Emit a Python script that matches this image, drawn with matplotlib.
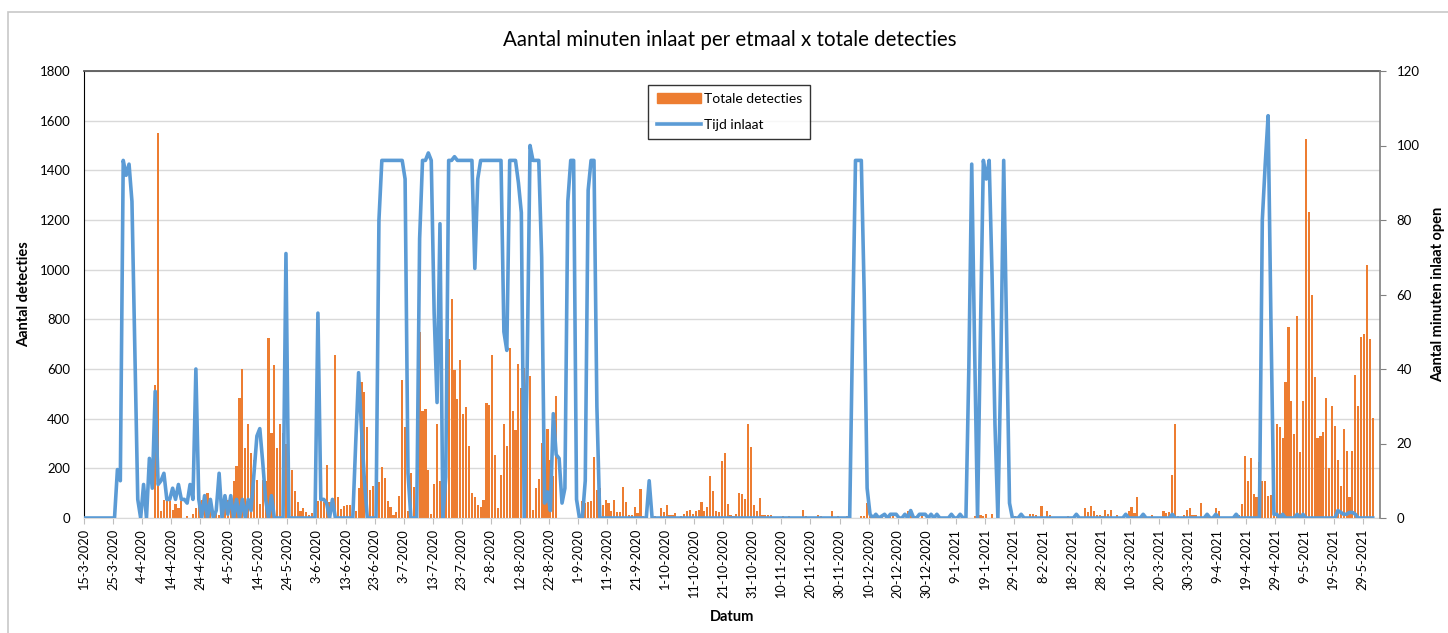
import numpy as np
import pandas as pd
import matplotlib
matplotlib.use("Agg")
import matplotlib.pyplot as plt
from matplotlib.patches import Patch, Rectangle
from matplotlib.lines import Line2D

plt.rcParams['font.family'] = ['Lato', 'DejaVu Sans']

# dagelijkse waarden, vanaf 15-3-2020
start = pd.Timestamp("2020-03-15")

# Totale detecties per dag
det_mrt_mei_2020 = ([0] * 24 +
    [537, 1551, 27, 71, 67, 67, 34, 58, 40, 67,
     0, 9, 0, 17, 40, 67, 74, 60, 100, 40,
     0, 20, 13, 60, 74, 74, 74, 148, 208, 483,
     600, 282, 379, 262, 235, 154, 56, 152, 150, 725,
     342, 618, 282, 379, 342, 300, 0, 193, 110, 63,
     30, 40, 23, 13])
det_jun_aug_2020 = [19, 0, 70, 70, 63, 215, 63, 0, 657, 83,
     36, 50, 52, 52, 0, 27, 120, 547, 509, 365,
     113, 130, 120, 144, 204, 161, 70, 43, 13, 23,
     90, 556, 368, 30, 181, 126, 0, 750, 432, 439,
     193, 16, 137, 379, 150, 0, 520, 721, 882, 596,
     479, 637, 419, 448, 291, 100, 83, 54, 43, 73,
     465, 455, 657, 254, 40, 175, 379, 291, 684, 430,
     353, 620, 524, 604, 786, 571, 34, 121, 157, 302,
     60, 359, 235, 168, 493] + [0] * 7
det_sep_nov_2020 = [0, 67, 60, 63, 67, 244, 114, 120, 54, 74,
     60, 27, 71, 23, 23, 125, 63, 13, 13, 44,
     20, 117, 9, 0, 0, 0, 9, 4, 40, 24,
     54, 11, 11, 20, 0, 7, 17, 27, 34, 17,
     27, 34, 63, 27, 44, 168, 107, 30, 23, 228,
     262, 58, 13, 9, 17, 100, 98, 76, 379, 285,
     54, 27, 79, 11, 11, 11, 12, 0, 0, 0,
     9, 0, 7, 0, 0, 0, 0, 34, 9, 0,
     0, 0, 12, 9, 4, 0, 0, 27, 0, 9,
     0]
det_dec_feb = ([0, 9, 0, 0, 0, 0, 7, 7, 60, 20,
     9, 13, 9, 13, 0, 9, 17, 9, 0, 0,
     0, 0, 27, 20, 0, 9, 0, 9, 0, 0] + [0] * 14 +
    [0, 9, 0, 13, 9, 17, 0, 17, 0, 0,
     0, 0, 0, 0, 0, 9, 0, 0, 0, 0,
     17, 17, 13, 0, 47, 0, 27, 13, 0, 0,
     0, 0, 0, 9, 0, 0, 0, 0, 0, 40,
     23, 47, 27, 13, 13, 9])
det_mrt_jun_2021 = [31, 17, 34, 0, 13, 0, 7, 0, 27, 44,
     20, 85, 0, 20, 0, 0, 13, 0, 0, 0,
     27, 20, 23, 175, 379, 9, 0, 13, 34, 40,
     13, 13, 0, 60, 0, 13, 0, 0, 40, 27,
     0, 0, 0, 0, 0, 13, 13, 56, 251, 148,
     242, 98, 85, 224, 148, 148, 90, 94, 211, 379,
     365, 322, 548, 770, 470, 340, 812, 265, 470, 1528,
     1233, 897, 567, 322, 329, 345, 483, 201, 453, 369,
     232, 130, 359, 269, 83, 269, 577, 450, 728, 741,
     1017, 721, 403, 103]

# Tijd inlaat (minuten/15) per dag
inl_mrt_mei_2020 = ([0] * 10 +
    [0, 13, 10, 96, 92, 95, 85, 45, 5, 0,
     9, 0, 16, 8, 34, 9, 10, 12, 5, 5,
     8, 5, 9, 5, 5, 4, 9, 5, 40, 5,
     0, 6, 0, 5, 0, 2, 12, 0, 6, 1,
     6, 0, 5, 0, 5, 0, 5, 2, 12, 22,
     24, 15, 5, 0, 6, 0, 0, 0, 0, 71] + [0] * 8)
inl_jun_aug_2020 = [0, 0, 55, 5, 5, 4, 0, 5, 0, 0,
     0, 0, 0, 0, 0, 20, 39, 24, 10, 0,
     0, 0, 0, 80, 96, 96, 96, 96, 96, 96,
     96, 96, 91, 12, 0, 0, 0, 75, 96, 96,
     98, 96, 55, 31, 79, 0, 11, 96, 96, 97,
     96, 96, 96, 96, 96, 96, 67, 91, 96, 96,
     96, 96, 96, 96, 96, 96, 50, 45, 96, 96,
     96, 90, 82, 0, 40, 100, 96, 96, 96, 70,
     4, 7, 2, 28, 17, 16, 4, 8, 85, 96,
     96, 5]
inl_sep_nov_2020 = ([0, 0, 10, 88, 96, 96, 30] + [0] * 17 + [10] + [0] * 66)
inl_dec_feb = ([0, 0, 0, 50, 96, 96, 96, 60, 8, 1,
     0, 1, 0, 0.5, 1, 0, 1, 1, 1, 0,
     0, 1, 0, 2, 0, 0, 1, 1, 1, 0,
     1, 0, 1, 0, 0, 0, 0, 1, 0, 0,
     1, 0, 0, 40, 95, 45, 0, 50, 96, 91,
     96, 65, 25, 0, 40, 96, 50, 4, 0, 0,
     0, 1] + [0] * 18 + [1] + [0] * 9)
inl_mrt_jun_2021 = ([0] * 7 + [1] + [0] * 5 +
    [1, 0, 0, 0, 0, 0, 0, 0, 0, 0, 1,
     0, 0, 0, 0, 0, 0, 0, 0, 0, 0, 0, 1, 0, 0, 1,
     0, 0, 0, 0, 0, 0, 1, 0, 0, 0, 0, 0, 0, 0, 0,
     80, 95, 108, 51, 1, 1, 0, 1, 0, 0, 0, 0, 1, 0,
     1, 0, 0, 0, 0, 0, 0, 0, 0, 0, 0, 0, 2, 1.5,
     1, 1, 1.5, 1.5, 1, 0, 0, 0, 0, 0, 0])

detecties = np.array(det_mrt_mei_2020 + det_jun_aug_2020 + det_sep_nov_2020
                     + det_dec_feb + det_mrt_jun_2021, dtype=float)
inlaat = np.array(inl_mrt_mei_2020 + inl_jun_aug_2020 + inl_sep_nov_2020
                  + inl_dec_feb + inl_mrt_jun_2021, dtype=float)
n = min(len(detecties), len(inlaat))
detecties, inlaat = detecties[:n], inlaat[:n]
dagen = np.arange(n)
datums = pd.date_range(start, periods=n, freq="D")

tick_idx = np.arange(0, 441, 10)
tick_labels = [f"{d.day}-{d.month}-{d.year}" for d in datums[tick_idx]]

oranje = "#ED7D31"
blauw = "#5B9BD5"

fig = plt.figure(figsize=(14.48, 6.33), dpi=100)
fig.patches.append(Rectangle((8 / 1448, -0.1), 1.2, (633 - 12) / 633 + 0.1,
                             transform=fig.transFigure, fill=False,
                             edgecolor="#c8c8c8", lw=1.2))
ax = fig.add_axes([84 / 1448, (633 - 518) / 633, 1296 / 1448, 447 / 633])

ax.bar(dagen + 0.5, detecties, width=0.74, color=oranje, zorder=2)
ax.set_xlim(0, 446)
ax.set_ylim(0, 1800)
ax.set_yticks(range(0, 1801, 200))
ax.yaxis.grid(True, color="#d9d9d9", lw=1, zorder=0)
ax.set_axisbelow(True)
ax.set_xticks(tick_idx)
ax.set_xticklabels(tick_labels, rotation=90, fontsize=9.2)
ax.tick_params(axis="x", length=4, color="#bfbfbf", pad=4)
ax.tick_params(axis="y", length=0, labelsize=9.5, pad=10)
ax.spines["left"].set_color("black")
ax.spines["top"].set_color("#595959")
ax.spines["top"].set_linewidth(1.3)
ax.spines["bottom"].set_color("#d9d9d9")
ax.spines["right"].set_visible(False)
ax.set_ylabel("Aantal detecties", fontsize=10.5, fontweight="bold", labelpad=6)
ax.set_xlabel("Datum", fontsize=10.5, fontweight="bold", labelpad=9)

ax2 = ax.twinx()
ax2.plot(dagen + 0.5, inlaat, color=blauw, lw=2.6, solid_joinstyle="round", zorder=3)
ax2.set_ylim(0, 120)
ax2.set_yticks(range(0, 121, 20))
ax2.tick_params(axis="y", length=4, color="#808080", labelsize=9.5, pad=8)
ax2.spines["right"].set_color("#808080")
ax2.spines["right"].set_linewidth(1.2)
for s in ["left", "top", "bottom"]:
    ax2.spines[s].set_visible(False)
ax2.set_ylabel("Aantal minuten inlaat open", fontsize=10.5, fontweight="bold", labelpad=8)

handles = [Patch(color=oranje, label="Totale detecties"),
           Line2D([0], [0], color=blauw, lw=2.6, label="Tijd inlaat")]
leg = ax2.legend(handles=handles, loc="upper center", bbox_to_anchor=(0.498, 0.985),
                 fontsize=10, frameon=True, fancybox=False, edgecolor="black",
                 handlelength=3.2, labelspacing=1.0, borderpad=0.6, handletextpad=0.2)
leg.get_frame().set_linewidth(1.0)

fig.text(730 / 1448, 1 - 40 / 633, "Aantal minuten inlaat per etmaal x totale detecties",
         ha="center", va="center", fontsize=14.8)

fig.savefig("out.png", dpi=100)
